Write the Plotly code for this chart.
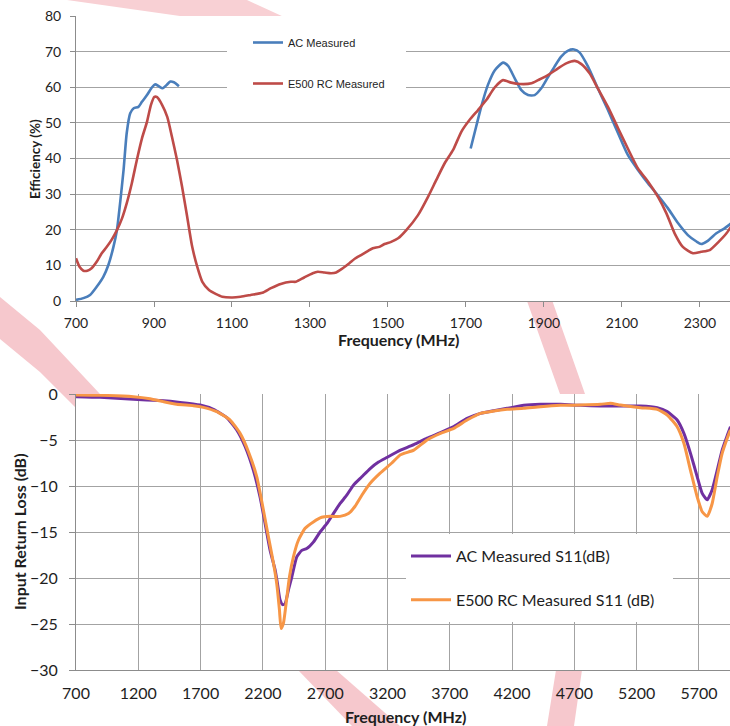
import plotly.graph_objects as go

W, H = 730, 726

# ---------------- Top chart: Efficiency (%) vs Frequency (MHz) ----------------
ac_eff_freq = [700, 719, 736, 753, 770, 783, 796, 805, 813, 822, 830, 839, 848, 860, 869, 882, 895, 903,
               912, 922, 932, 942, 951, 964,
               None,
               1712, 1726, 1739, 1756, 1774, 1795, 1808, 1825, 1842, 1859, 1876, 1893, 1910, 1927, 1944,
               1962, 1977, 1991, 2013, 2038, 2064, 2090, 2115, 2141, 2167, 2192, 2218, 2244, 2269, 2291,
               2303, 2320, 2342, 2363, 2380]
ac_eff_val = [0.3, 0.8, 1.7, 4.0, 6.8, 10.1, 15.2, 19.9, 27.4, 36.8, 47.1, 52.7, 54.1, 54.5, 55.9, 57.8, 60.0, 60.8,
              60.3, 59.7, 60.6, 61.6, 61.4, 60.3,
              None,
              42.8, 48.9, 54.5, 60.6, 64.8, 66.9, 66.0, 62.5, 59.2, 57.8, 57.8, 59.7, 62.8, 65.8, 68.6,
              70.3, 70.6, 69.8, 65.8, 59.7, 53.6, 47.1, 41.0, 36.8, 33.0, 29.7, 26.0, 21.8, 18.5, 16.7,
              16.0, 16.9, 19.0, 20.4, 21.8]

rc_eff_freq = [700, 709, 719, 729, 740, 753, 766, 779, 792, 805, 818, 830, 843, 856, 869, 882, 892, 901,
               908, 921, 934, 946, 959, 972, 985, 998, 1011, 1024, 1041, 1058, 1075, 1101, 1122, 1148,
               1178, 1200, 1225, 1251, 1264, 1285, 1307, 1320, 1337, 1354, 1367, 1384, 1401, 1414, 1431,
               1448, 1461, 1478, 1491, 1508, 1526, 1547, 1577, 1603, 1624, 1645, 1667, 1688, 1709,
               1731, 1752, 1774, 1795, 1816, 1838, 1868, 1885, 1910, 1936, 1957, 1979, 1996, 2017, 2038,
               2064, 2090, 2115, 2141, 2167, 2192, 2214, 2235, 2256, 2282, 2303, 2325, 2346, 2368, 2380]
rc_eff_val = [12.0, 9.6, 8.5, 8.5, 9.2, 11.0, 13.4, 15.2, 17.3, 19.9, 23.2, 27.4, 33.0, 39.6, 45.6, 50.3, 55.0, 57.3,
              57.2, 55.0, 51.7, 46.1, 39.6, 32.1, 23.7, 15.2, 9.6, 5.4, 3.1, 2.0, 1.2, 1.0, 1.2, 1.7,
              2.3, 3.6, 4.8, 5.4, 5.4, 6.6, 7.8, 8.2, 8.0, 7.8, 8.0, 9.2, 10.6, 11.8, 12.9,
              14.0, 14.8, 15.2, 16.0, 16.6, 17.6, 19.9, 24.1, 29.3, 34.0, 38.6, 42.4, 47.5, 50.8,
              53.6, 56.4, 60.0, 62.0, 61.3, 60.9, 61.1, 62.0, 63.4, 65.3, 66.7, 67.4, 66.5, 63.9, 59.7,
              54.5, 48.5, 42.8, 37.2, 33.5, 29.3, 24.6, 19.0, 15.2, 13.4, 13.8, 14.3, 16.4, 19.0, 20.9]

top_x_ticks = [700, 900, 1100, 1300, 1500, 1700, 1900, 2100, 2300]
top_y_ticks = [0, 10, 20, 30, 40, 50, 60, 70, 80]

# ---------------- Bottom chart: Input Return Loss (dB) ----------------
ac_s11_freq = [700, 893, 1160, 1375, 1535, 1696, 1803, 1910, 1990, 2057, 2124, 2177, 2218, 2258, 2298,
               2317, 2338, 2359, 2378, 2405, 2432, 2472, 2512, 2552, 2605, 2659, 2713, 2766, 2820, 2873,
               2927, 2994, 3061, 3128, 3195, 3275, 3304, 3411, 3518, 3625, 3732, 3839, 3946, 4053,
               4160, 4294, 4428, 4589, 4749, 4910, 5070, 5231, 5365, 5445, 5525, 5579, 5632, 5686,
               5726, 5766, 5806, 5846, 5886, 5927, 5953]
ac_s11_val = [-0.29, -0.36, -0.58, -0.72, -0.91, -1.2, -1.67, -2.57, -3.9, -5.7, -8.3, -11.2, -14.1, -17.0, -19.1,
              -20.6, -22.4, -22.9, -22.8, -21.3, -19.9, -17.7, -17.0, -16.8, -16.1, -15.0, -14.1, -13.0, -11.9, -11.0,
              -9.9, -9.0, -8.1, -7.4, -6.9, -6.3, -6.1, -5.5, -4.8, -4.2, -3.55, -2.64, -2.1, -1.81,
              -1.56, -1.23, -1.12, -1.12, -1.23, -1.30, -1.30, -1.30, -1.49, -1.92, -2.83, -4.28, -6.45, -9.0,
              -10.8, -11.5, -10.4, -8.3, -6.1, -4.5, -3.55]

rc_s11_freq = [700, 893, 1160, 1294, 1401, 1508, 1642, 1722, 1829, 1937, 2017, 2084, 2151, 2204, 2244,
               2285, 2311, 2333, 2346, 2365, 2386, 2413, 2445, 2485, 2539, 2605, 2672, 2739, 2820, 2887,
               2940, 2994, 3061, 3141, 3235, 3304, 3411, 3518, 3625, 3732, 3839, 3946, 4053, 4160,
               4294, 4428, 4589, 4749, 4910, 4990, 5070, 5231, 5365, 5445, 5525, 5579, 5632, 5686,
               5726, 5766, 5806, 5846, 5886, 5927, 5953]
rc_s11_val = [-0.11, -0.14, -0.29, -0.51, -0.83, -1.12, -1.27, -1.45, -1.92, -2.83, -4.28, -6.27, -9.0, -12.6, -15.5,
              -18.4, -20.6, -23.5, -25.5, -24.9, -22.8, -19.9, -17.7, -15.9, -14.6, -13.9, -13.4, -13.3, -13.3, -13.0,
              -12.2, -11.0, -9.7, -8.6, -7.5, -6.6, -6.1, -5.0, -4.28, -3.73, -2.83, -2.1, -1.85, -1.67,
              -1.56, -1.38, -1.23, -1.20, -1.12, -1.01, -1.20, -1.49, -1.67, -2.28, -3.55, -5.36, -8.3, -11.2,
              -12.8, -13.3, -11.9, -9.0, -6.45, -4.8, -3.9]

bot_x_ticks = [700, 1200, 1700, 2200, 2700, 3200, 3700, 4200, 4700, 5200, 5700]
bot_y_ticks = [-30, -25, -20, -15, -10, -5, 0]

# ---------------- styling ----------------
FONT = "Lato"
GRID = "#a3a3a3"
AXIS = "#8c8c8c"
TXT = "#1e1e1e"


def px(x):
    return x / W


def py(y):
    return 1 - y / H


fig = go.Figure()

fig.add_trace(go.Scatter(x=ac_eff_freq, y=ac_eff_val, name="AC Measured", mode="lines",
                         line=dict(color="#4A7EBB", width=2.6, shape="spline", smoothing=0.6),
                         xaxis="x", yaxis="y", legend="legend", legendgroup="g1"))
fig.add_trace(go.Scatter(x=rc_eff_freq, y=rc_eff_val, name="E500 RC Measured", mode="lines",
                         line=dict(color="#BE4B48", width=2.6, shape="spline", smoothing=0.6),
                         xaxis="x", yaxis="y", legend="legend", legendgroup="g2"))
fig.add_trace(go.Scatter(x=ac_s11_freq, y=ac_s11_val, name="AC Measured S11(dB)", mode="lines",
                         line=dict(color="#7030A0", width=3, shape="spline", smoothing=0.5),
                         xaxis="x2", yaxis="y2", legend="legend2", legendgroup="g3"))
fig.add_trace(go.Scatter(x=rc_s11_freq, y=rc_s11_val, name="E500 RC Measured S11 (dB)", mode="lines",
                         line=dict(color="#F79646", width=3, shape="spline", smoothing=0.5),
                         xaxis="x2", yaxis="y2", legend="legend2", legendgroup="g4"))

# watermark swooshes (decorative background), then white plot areas above them
pink = "#f6c8cd"


def poly(pts):
    return "M " + " L ".join(f"{px(a):.5f},{py(b):.5f}" for a, b in pts) + " Z"


shapes = [
    dict(type="path", xref="paper", yref="paper", layer="below", line=dict(width=0),
         fillcolor="#f8d0d4", path=poly([(67, 0), (247, 0), (284, 17), (187, 17)])),
    dict(type="path", xref="paper", yref="paper", layer="below", line=dict(width=0),
         fillcolor=pink, path=poly([(0, 297), (40, 330), (100, 394), (80, 412), (40, 372), (0, 339)])),
    dict(type="path", xref="paper", yref="paper", layer="below", line=dict(width=0),
         fillcolor=pink, path=poly([(520, 280), (545, 280), (585, 394), (590, 520), (582, 670), (574, 726),
                                    (547, 726), (556, 670), (563, 520), (560, 394), (527, 301)])),
    dict(type="path", xref="paper", yref="paper", layer="below", line=dict(width=0),
         fillcolor=pink, path=poly([(298, 670), (336, 670), (400, 726), (352, 726)])),
    # plot area backgrounds
    dict(type="rect", xref="paper", yref="paper", layer="below", line=dict(width=0), fillcolor="white",
         x0=px(76), x1=1, y0=py(301), y1=py(16)),
    dict(type="rect", xref="paper", yref="paper", layer="below", line=dict(width=0), fillcolor="white",
         x0=px(76), x1=1, y0=py(670), y1=py(394)),
    # legend boxes (white, hide gridlines behind the legends)
    dict(type="rect", xref="paper", yref="paper", layer="above", line=dict(width=0), fillcolor="white",
         x0=px(227), x1=px(406), y0=py(104), y1=py(28)),
    dict(type="rect", xref="paper", yref="paper", layer="above", line=dict(width=0), fillcolor="white",
         x0=px(406), x1=px(673), y0=py(622), y1=py(534)),
]

annotations = [
    dict(text="Frequency (MHz)", x=px(398), y=py(339), xref="paper", yref="paper", showarrow=False,
         xanchor="center", yanchor="middle", font=dict(family=FONT, size=16, color=TXT, weight="bold")),
    dict(text="Frequency (MHz)", x=px(405), y=py(716), xref="paper", yref="paper", showarrow=False,
         xanchor="center", yanchor="middle", font=dict(family=FONT, size=16, color=TXT, weight="bold")),
    dict(text="Efficiency (%)", x=px(35), y=py(159), xref="paper", yref="paper", showarrow=False,
         textangle=-90, xanchor="center", yanchor="middle",
         font=dict(family=FONT, size=13.5, color=TXT, weight="bold")),
    dict(text="Input Return Loss (dB)", x=px(19), y=py(532), xref="paper", yref="paper", showarrow=False,
         textangle=-90, xanchor="center", yanchor="middle",
         font=dict(family=FONT, size=16, color=TXT, weight="bold")),
]

fig.update_layout(
    width=W, height=H,
    margin=dict(l=0, r=0, t=0, b=0, pad=0, autoexpand=False),
    paper_bgcolor="white", plot_bgcolor="white",
    showlegend=True,
    shapes=shapes,
    annotations=annotations,
    xaxis=dict(domain=[px(76), 1], range=[700, 2377], tickvals=top_x_ticks, anchor="y", automargin=False,
               showgrid=False, zeroline=False, showline=True, linecolor=AXIS, linewidth=1,
               ticks="outside", ticklen=5, tickcolor=AXIS, ticklabelstandoff=4,
               tickfont=dict(family=FONT, size=14, color=TXT)),
    yaxis=dict(domain=[py(301), py(16)], range=[0, 80], tickvals=top_y_ticks, anchor="x", automargin=False,
               showgrid=True, gridcolor=GRID, gridwidth=1, zeroline=False,
               showline=True, linecolor=AXIS, linewidth=1,
               ticks="outside", ticklen=5, tickcolor=AXIS, ticklabelstandoff=6,
               tickfont=dict(family=FONT, size=14, color=TXT)),
    xaxis2=dict(domain=[px(76), 1], range=[700, 5949], tickvals=bot_x_ticks, anchor="y2", automargin=False,
                showgrid=True, gridcolor=GRID, gridwidth=1, zeroline=False,
                showline=True, linecolor=AXIS, linewidth=1,
                ticks="", ticklabelstandoff=9,
                tickfont=dict(family=FONT, size=16, color=TXT)),
    yaxis2=dict(domain=[py(670), py(394)], range=[-30, 0], tickvals=bot_y_ticks, anchor="x2", automargin=False,
                showgrid=True, gridcolor=GRID, gridwidth=1, zeroline=False,
                showline=True, linecolor=AXIS, linewidth=1,
                ticks="outside", ticklen=6, tickcolor=AXIS, ticklabelstandoff=8,
                tickfont=dict(family=FONT, size=16, color=TXT)),
    legend=dict(x=px(248), y=py(28), xanchor="left", yanchor="top", bgcolor="rgba(0,0,0,0)",
                borderwidth=0, tracegroupgap=22, itemwidth=30,
                font=dict(family="Liberation Sans", size=11, color=TXT)),
    legend2=dict(x=px(406), y=py(539), xanchor="left", yanchor="top", bgcolor="rgba(0,0,0,0)",
                 borderwidth=0, tracegroupgap=20, itemwidth=40,
                 font=dict(family=FONT, size=16, color=TXT)),
)

fig.write_html("out.html", config={"displayModeBar": False},
               post_script="document.body.style.margin='0px';document.body.style.overflow='hidden';")
